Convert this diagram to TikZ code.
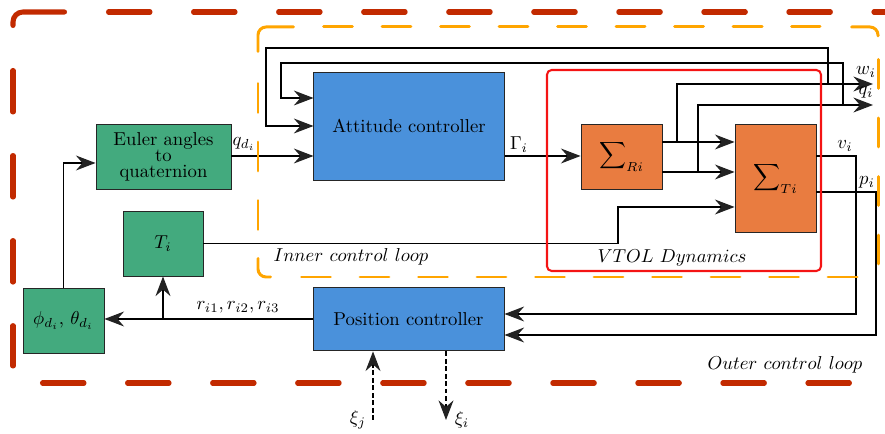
\documentclass[tikz,border=0pt]{standalone}
\usetikzlibrary{arrows.meta}
\definecolor{blueC}{HTML}{4A91DB}
\definecolor{greenC}{HTML}{43AA7E}
\definecolor{orangeB}{HTML}{E97C40}
\definecolor{innerC}{HTML}{FFA500}
\definecolor{outerC}{HTML}{C22A00}
\definecolor{tipC}{HTML}{222222}
\definecolor{redC}{HTML}{F41414}
\tikzset{
  blk/.style={draw=black!85, line width=0.5pt, inner sep=0pt, align=center},
  conn/.style={line width=0.65pt, draw=black},
  arr/.style={conn, -{Stealth[length=10.5pt,width=8pt,inset=3.5pt,color=tipC]}},
  darr/.style={arr, dash pattern=on 2.5pt off 1.5pt},
  outerS/.style={draw=outerC, line width=2.7pt, line cap=round, rounded corners=5.3pt},
  outerD/.style={draw=outerC, line width=2.7pt, line cap=round, dash pattern=on 22.2pt off 23.3pt},
  innerS/.style={draw=innerC, line width=1.6pt, line cap=round, rounded corners=4.3pt},
  innerD/.style={draw=innerC, line width=1.6pt, line cap=round, dash pattern=on 15.5pt off 15.8pt},
  lbl/.style={inner sep=0pt}
}
\begin{document}
\begin{tikzpicture}[x=0.535pt,y=-0.535pt]
\useasboundingbox (0,0) rectangle (885,434);

% blocks
\node[blk, fill=greenC, minimum width=72.2pt, minimum height=34.8pt] (euler) at (163.5,156.5) {Euler angles\\[-3.4pt]to\\[-3.4pt]quaternion};
\node[blk, fill=greenC, minimum width=42.8pt, minimum height=34.8pt] (ti) at (163,243.5) {$T_i$};
\node[blk, fill=greenC, minimum width=43.3pt, minimum height=34.8pt] (phi) at (63.5,320.5) {$\phi_{d_i}$, $\theta_{d_i}$};
\node[blk, fill=blueC, minimum width=101.7pt, minimum height=57.8pt] (att) at (409,126) {Attitude controller};
\node[blk, fill=blueC, minimum width=102.2pt, minimum height=34.2pt] (pos) at (408.5,319) {Position controller};
\node[blk, fill=orangeB, minimum width=43.3pt, minimum height=34.8pt] (sr) at (621.5,156.5) {$\displaystyle\sum\nolimits_{Ri}$};
\node[blk, fill=orangeB, minimum width=43.3pt, minimum height=57.8pt] (st) at (775.5,178) {$\displaystyle\sum\nolimits_{Ti}$};

% named bend points
\coordinate (wb) at (677,142);
\coordinate (qb) at (698,172);
\coordinate (wtip) at (873,84);
\coordinate (qtip) at (873,105);
\coordinate (wfb) at (828,84);
\coordinate (qfb) at (843,105);
\coordinate (xj) at (373,420);
\coordinate (xi) at (446,420);

% connectors
\draw[arr] (euler.east |- 0,156) -- (att.west |- 0,156);
\draw[arr] (att.east |- 0,156) -- (sr.west |- 0,156);
\draw[arr] (sr.east |- wb) -- (st.west |- wb);
\draw[arr] (sr.east |- qb) -- (st.west |- qb);
\draw[arr] (wb) |- (wtip);
\draw[arr] (qb) |- (qtip);
\draw[arr] (wfb) |- (266,48) |- (att.west |- 0,126);
\draw[arr] (qfb) |- (281,63) |- (att.west |- 0,98);
\draw[arr] (ti.east) -| (618,207) -- (st.west |- 0,207);
\draw[arr] (st.east |- 0,156) -| (856,314) -- (pos.east |- 0,314);
\draw[arr] (st.east |- 0,192) -| (876,335) -- (pos.east |- 0,335);
\draw[arr] (pos.west) -- (phi.east |- pos.west);
\draw[arr] (ti.south |- pos.west) -- (ti.south);
\draw[arr] (phi.north) |- (euler.west |- 0,163);
\draw[darr] (xj) -- (xj |- pos.south);
\draw[darr] (xi |- pos.south) -- (xi);

% labels
\node[lbl] at (244,144) {$q_{d_i}$};
\node[lbl] at (519,145) {$\Gamma_i$};
\node[lbl] at (866,72) {$w_i$};
\node[lbl] at (866,92) {$q_i$};
\node[lbl] at (845,146) {$v_i$};
\node[lbl] at (867,182) {$p_i$};
\node[lbl] at (238,307) {$r_{i1},r_{i2},r_{i3}$};
\node[lbl] at (358,420) {$\xi_j$};
\node[lbl] at (462,420) {$\xi_i$};
\node[lbl] (innerlbl) at (351,257) {$Inner\ control\ loop$};
\node[lbl] (vtollbl) at (672,258) {$VTOL\ Dynamics$};
\node[lbl] (outerlbl) at (785,365) {$Outer\ control\ loop$};

% VTOL box
\draw[draw=redC, line width=1.1pt, rounded corners=2.5pt] (547,70) rectangle (821,271);

% inner loop
\draw[innerS] (258,51.5) -- (258,27) -- (293.5,27);
\draw[innerD] (323.5,27) -- (820,27);
\draw[innerS] (851.5,27) -- (878,27) -- (878,36);
\draw[innerD] (878,59.5) -- (878,266);
\draw[innerD] (258,83.5) -- (258,230);
\draw[innerS] (258,258.5) -- (258,277) -- (270.5,277);
\draw[innerD] (301.5,277) -- (858,277);

% outer loop
\draw[outerS] (13,25.5) -- (13,12) -- (64.5,12);
\draw[outerD] (108.5,12) -- (900,12);
\draw[outerD] (13,70.5) -- (13,366);
\draw[outerD] (42.5,383) -- (851,383);
\end{tikzpicture}
\end{document}
